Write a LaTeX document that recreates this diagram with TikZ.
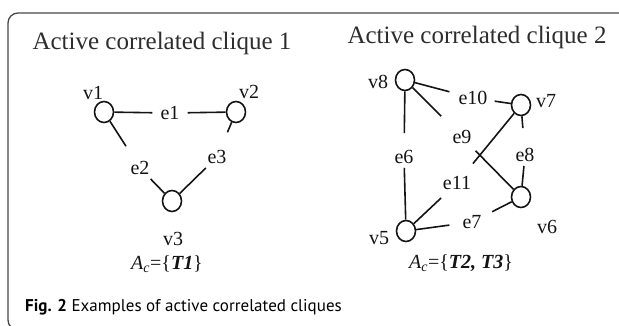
\documentclass[tikz,border=0pt]{standalone}
\usepackage{fontspec}
\setmainfont{Liberation Serif}
\newfontfamily\capfont{PT Sans}
\usetikzlibrary{positioning,shapes.geometric}
\definecolor{framegray}{RGB}{70,70,70}
\definecolor{inkblack}{RGB}{20,20,20}
\definecolor{titlegray}{RGB}{45,45,45}
\tikzset{
  vtxnode/.style={ellipse,draw=inkblack,line width=1.6pt,minimum width=19pt,minimum height=21pt,inner sep=0pt},
  vlabel/.style={font=\fontsize{20}{22}\selectfont,inner sep=1pt,text=inkblack},
  elabel/.style={font=\fontsize{20}{22}\selectfont,inner xsep=7pt,inner ysep=4pt,text=inkblack},
  titlenode/.style={font=\fontsize{25}{28}\selectfont,text=titlegray},
  setnode/.style={font=\fontsize{20}{22}\selectfont,text=inkblack},
  captionnode/.style={font=\capfont\fontsize{17}{20}\selectfont,anchor=base west,inner sep=0pt},
  linkline/.style={line width=1.6pt,draw=inkblack}
}
\newcommand{\actset}[1]{\textit{A}\textsubscript{\textit{c}}=\{\textbf{\textit{#1}}\}}

\begin{document}
\begin{tikzpicture}[x=1pt,y=-1pt]
  \useasboundingbox (0,0) rectangle (619,325);
  \clip (0,0) rectangle (619,325);
  \draw[framegray,line width=1.3pt,rounded corners=10pt] (8,13) rectangle (660,330);

  \node[titlenode] (title1) at (162,43) {Active correlated clique 1};
  \node[titlenode] (title2) at (477,37) {Active correlated clique 2};

  \node[vtxnode] (v1) at (104,112) {};
  \node[vtxnode] (v2) at (236,112) {};
  \node[vtxnode] (v3) at (172,201) {};
  \node[vlabel] (v1lab) at (93,93) {v1};
  \node[vlabel] (v2lab) at (249,92) {v2};
  \node[vlabel] (v3lab) at (173,239) {v3};
  \node[elabel] (e1) at (170,113) {e1};
  \node[elabel] (e2) at (140,168) {e2};
  \node[elabel] (e3) at (217,157) {e3};

  \draw[linkline,shorten >=1pt] (v1) -- (e1); \draw[linkline,shorten <=1pt] (e1) -- (v2);
  \draw[linkline,shorten >=13pt] (v1) -- (e2); \draw[linkline] (e2) -- (v3);
  \draw[linkline,shorten >=15pt] (v2) -- (e3); \draw[linkline] (e3) -- (v3);

  \node[vtxnode] (v8) at (405,80) {};
  \node[vtxnode] (v7) at (521,105) {};
  \node[vtxnode] (v6) at (521,197) {};
  \node[vtxnode] (v5) at (406,231) {};
  \node[vlabel] (v8lab) at (378,82) {v8};
  \node[vlabel] (v7lab) at (546,101) {v7};
  \node[vlabel] (v6lab) at (547,227) {v6};
  \node[vlabel] (v5lab) at (379,238) {v5};
  \node[elabel] (e10) at (473,98) {e10};
  \node[elabel] (e9) at (462,137) {e9};
  \node[elabel] (e6) at (404,157) {e6};
  \node[elabel] (e11) at (457,183) {e11};
  \node[elabel] (e7) at (472,222) {e7};
  \node[elabel] (e8) at (525,155) {e8};

  \draw[linkline,shorten >=2pt] (v8) -- (e10); \draw[linkline] (e10) -- (v7);
  \draw[linkline,shorten >=14pt] (v8) -- (e9); \draw[linkline,shorten <=4pt] (e9) -- (v6);
  \draw[linkline,shorten >=11pt] (v7) -- (e11); \draw[linkline,shorten <=6pt] (e11) -- (v5);
  \draw[linkline,shorten >=13pt] (v8) -- (e6); \draw[linkline] (e6) -- (v5);
  \draw[linkline,shorten >=6pt] (v5) -- (e7); \draw[linkline,shorten <=4pt] (e7) -- (v6);
  \draw[linkline,shorten >=16pt] (v7) -- (e8); \draw[linkline] (e8) -- (v6);

  \node[setnode] (set1) at (167,264) {\actset{T1}};
  \node[setnode] (set2) at (461,263) {\actset{T2, T3}};

  \node[captionnode] (caption) at (25,311) {\textbf{Fig. 2} Examples of active correlated cliques};
\end{tikzpicture}
\end{document}
